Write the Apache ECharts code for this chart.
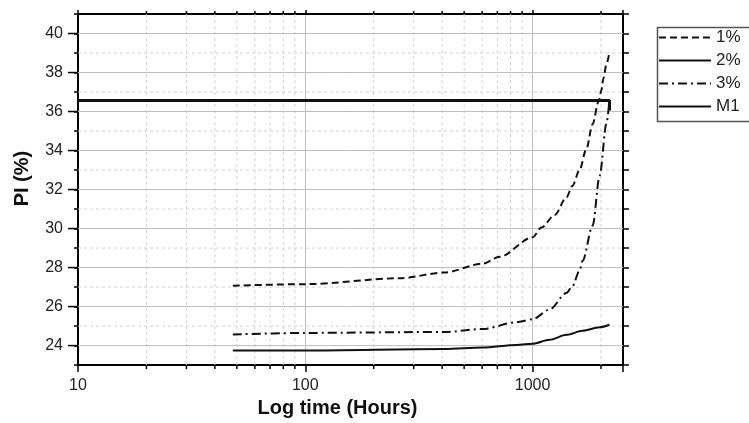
<!DOCTYPE html>
<html>
<head>
<meta charset="utf-8">
<script src="https://cdn.jsdelivr.net/npm/echarts@6/dist/echarts.min.js"></script>
<style>html,body{margin:0;padding:0;background:#fff}#c{width:749px;height:423px}</style>
</head>
<body>
<div id="c"></div>
<script>
// ---- data ----
const seriesNames = ['1%', '2%', '3%', 'M1'];
const t1 = [48, 100, 260, 410, 603, 716, 1000, 1094, 1252, 1410, 1499, 1610, 1722, 1838, 1950, 2010, 2050, 2115, 2180];
const v1 = [27.07, 27.15, 27.45, 27.75, 28.2, 28.55, 29.55, 30.05, 30.7, 31.6, 32.2, 33.0, 34.05, 35.35, 36.5, 37.1, 37.7, 38.45, 39.05];
const t2 = [48, 100, 410, 603, 851, 1000, 1189, 1410, 1660, 1973, 2180];
const v2 = [23.75, 23.75, 23.83, 23.9, 24.03, 24.1, 24.3, 24.55, 24.76, 24.94, 25.07];
const t3 = [48, 100, 410, 603, 851, 1000, 1189, 1410, 1499, 1610, 1660, 1838, 1973, 2115, 2180];
const v3 = [24.57, 24.65, 24.7, 24.85, 25.2, 25.35, 25.85, 26.7, 27.05, 27.85, 28.35, 30.15, 32.7, 35.4, 36.6];
const tM1 = [10, 2180, 2180];
const vM1 = [36.57, 36.57, 36.05];
// axis ticks / grid values
const xMinorTicks = [20, 30, 40, 50, 60, 70, 80, 90, 200, 300, 400, 500, 600, 700, 800, 900, 2000];
const yMajorTicks = [24, 26, 28, 30, 32, 34, 36, 38, 40];
const yMinorTicks = [25, 27, 29, 31, 33, 35, 37, 39];
const xMin = 10, xMax = 2500, yMin = 23, yMax = 41;

const zip = (a, b) => a.map((x, i) => [x, b[i]]);
const FONT = '"Liberation Sans", Arial, sans-serif';

const chart = echarts.init(document.getElementById('c'), null, {renderer: 'canvas'});

const xBase = {
  type: 'log', logBase: 10, min: xMin, max: xMax,
  axisLine: {show: true, onZero: false, lineStyle: {color: '#000', width: 2}},
};
const yBase = {
  type: 'value', min: yMin, max: yMax, interval: 1,
  axisLine: {show: true, onZero: false, lineStyle: {color: '#000', width: 2}},
  splitLine: {show: false}
};

const lineCommon = {
  type: 'line', showSymbol: false, symbol: 'none', smooth: 0.3, smoothMonotone: 'x',
  z: 3, silent: true
};

const option = {
  backgroundColor: '#fff',
  animation: false,
  grid: {left: 78, right: 126, top: 14, bottom: 50, containLabel: false},
  legend: {
    data: seriesNames, orient: 'vertical', left: 658, top: 29, padding: 0,
    itemWidth: 52, itemHeight: 14, itemGap: 6,
    itemStyle: {opacity: 0},
    textStyle: {fontSize: 17, lineHeight: 17, color: '#222', fontFamily: FONT},
    selectedMode: false
  },
  graphic: [{
    type: 'rect', left: 655, top: 25, silent: true,
    shape: {width: 120, height: 94},
    style: {fill: 'none', stroke: '#555', lineWidth: 1.5}
  }],
  xAxis: [
    Object.assign({}, xBase, {
      position: 'bottom',
      name: 'Log time (Hours)', nameLocation: 'middle', nameGap: 28,
      nameTextStyle: {fontSize: 20, fontWeight: 'bold', color: '#111', fontFamily: FONT, padding: [0, 26, 0, 0]},
      axisTick: {show: true, length: 7, inside: false, lineStyle: {color: '#000', width: 1.5}},
      axisLabel: {
        show: true, margin: 12, fontSize: 16, color: '#222', fontFamily: FONT,
        formatter: v => { const l = Math.log10(v); return Math.abs(l - Math.round(l)) < 1e-6 ? String(Math.round(v)) : ''; }
      },
      splitLine: {show: true, lineStyle: {color: '#bdbdbd', width: 1}}
    }),
    Object.assign({}, xBase, {
      position: 'top',
      axisTick: {show: true, length: 4, lineStyle: {color: '#000', width: 1.5}},
      axisLabel: {show: false},
      splitLine: {show: false}
    })
  ],
  yAxis: [
    Object.assign({}, yBase, {
      position: 'left',
      name: 'PI (%)', nameLocation: 'middle', nameGap: 46, nameRotate: 90,
      nameTextStyle: {fontSize: 20, fontWeight: 'bold', color: '#111', fontFamily: FONT, padding: [0, 0, 0, 22]},
      axisTick: {show: true, length: 4, lineStyle: {color: '#000', width: 1.5}},
      axisLabel: {
        show: true, margin: 15, fontSize: 16, color: '#222', fontFamily: FONT,
        formatter: v => (yMajorTicks.indexOf(v) >= 0 ? String(v) : '')
      }
    }),
    Object.assign({}, yBase, {
      position: 'right',
      axisTick: {show: true, length: 6, lineStyle: {color: '#000', width: 1.5}},
      axisLabel: {show: false}
    })
  ],
  series: [
    // minor vertical grid lines + minor ticks on top/bottom
    {
      type: 'custom', name: 'xminor', silent: true, z: 1, xAxisIndex: 0, yAxisIndex: 0,
      data: xMinorTicks.map(v => [v, yMin]),
      renderItem: (params, api) => {
        const x = api.value(0);
        const p0 = api.coord([x, yMin]);
        const p1 = api.coord([x, yMax]);
        return {type: 'group', children: [
          {type: 'line', shape: {x1: p0[0], y1: p0[1], x2: p1[0], y2: p1[1]}, style: {stroke: '#d0d0d0', lineWidth: 1, lineDash: [3, 3]}},
          {type: 'line', shape: {x1: p0[0], y1: p0[1], x2: p0[0], y2: p0[1] + 4}, style: {stroke: '#000', lineWidth: 1.5}},
          {type: 'line', shape: {x1: p1[0], y1: p1[1], x2: p1[0], y2: p1[1] - 3}, style: {stroke: '#000', lineWidth: 1.5}}
        ]};
      }
    },
    // minor horizontal grid lines
    {
      type: 'custom', name: 'yminor', silent: true, z: 1, xAxisIndex: 0, yAxisIndex: 0,
      data: yMinorTicks.map(v => [xMin, v]),
      renderItem: (params, api) => {
        const y = api.value(1);
        const p0 = api.coord([xMin, y]);
        const p1 = api.coord([xMax, y]);
        return {type: 'line', shape: {x1: p0[0], y1: p0[1], x2: p1[0], y2: p1[1]}, style: {stroke: '#d0d0d0', lineWidth: 1, lineDash: [3, 3]}};
      }
    },
    // major horizontal grid lines + long left ticks
    {
      type: 'custom', name: 'ymajor', silent: true, z: 1, xAxisIndex: 0, yAxisIndex: 0,
      data: yMajorTicks.map(v => [xMin, v]),
      renderItem: (params, api) => {
        const y = api.value(1);
        const p0 = api.coord([xMin, y]);
        const p1 = api.coord([xMax, y]);
        return {type: 'group', children: [
          {type: 'line', shape: {x1: p0[0], y1: p0[1], x2: p1[0], y2: p1[1]}, style: {stroke: '#bdbdbd', lineWidth: 1}},
          {type: 'line', shape: {x1: p0[0] - 10, y1: p0[1], x2: p0[0], y2: p0[1]}, style: {stroke: '#000', lineWidth: 1.5}}
        ]};
      }
    },
    Object.assign({}, lineCommon, {
      name: '1%', data: zip(t1, v1),
      lineStyle: {color: '#111', width: 2, type: [7, 4]}, itemStyle: {color: '#111'}
    }),
    Object.assign({}, lineCommon, {
      name: '2%', data: zip(t2, v2),
      lineStyle: {color: '#111', width: 2, type: 'solid'}, itemStyle: {color: '#111'}
    }),
    Object.assign({}, lineCommon, {
      name: '3%', data: zip(t3, v3),
      lineStyle: {color: '#111', width: 2, type: [9, 4, 2, 4]}, itemStyle: {color: '#111'}
    }),
    Object.assign({}, lineCommon, {
      name: 'M1', data: zip(tM1, vM1), smooth: false,
      lineStyle: {color: '#111', width: 3, type: 'solid'}, itemStyle: {color: '#111'}
    })
  ]
};
chart.setOption(option);
</script>
</body>
</html>
